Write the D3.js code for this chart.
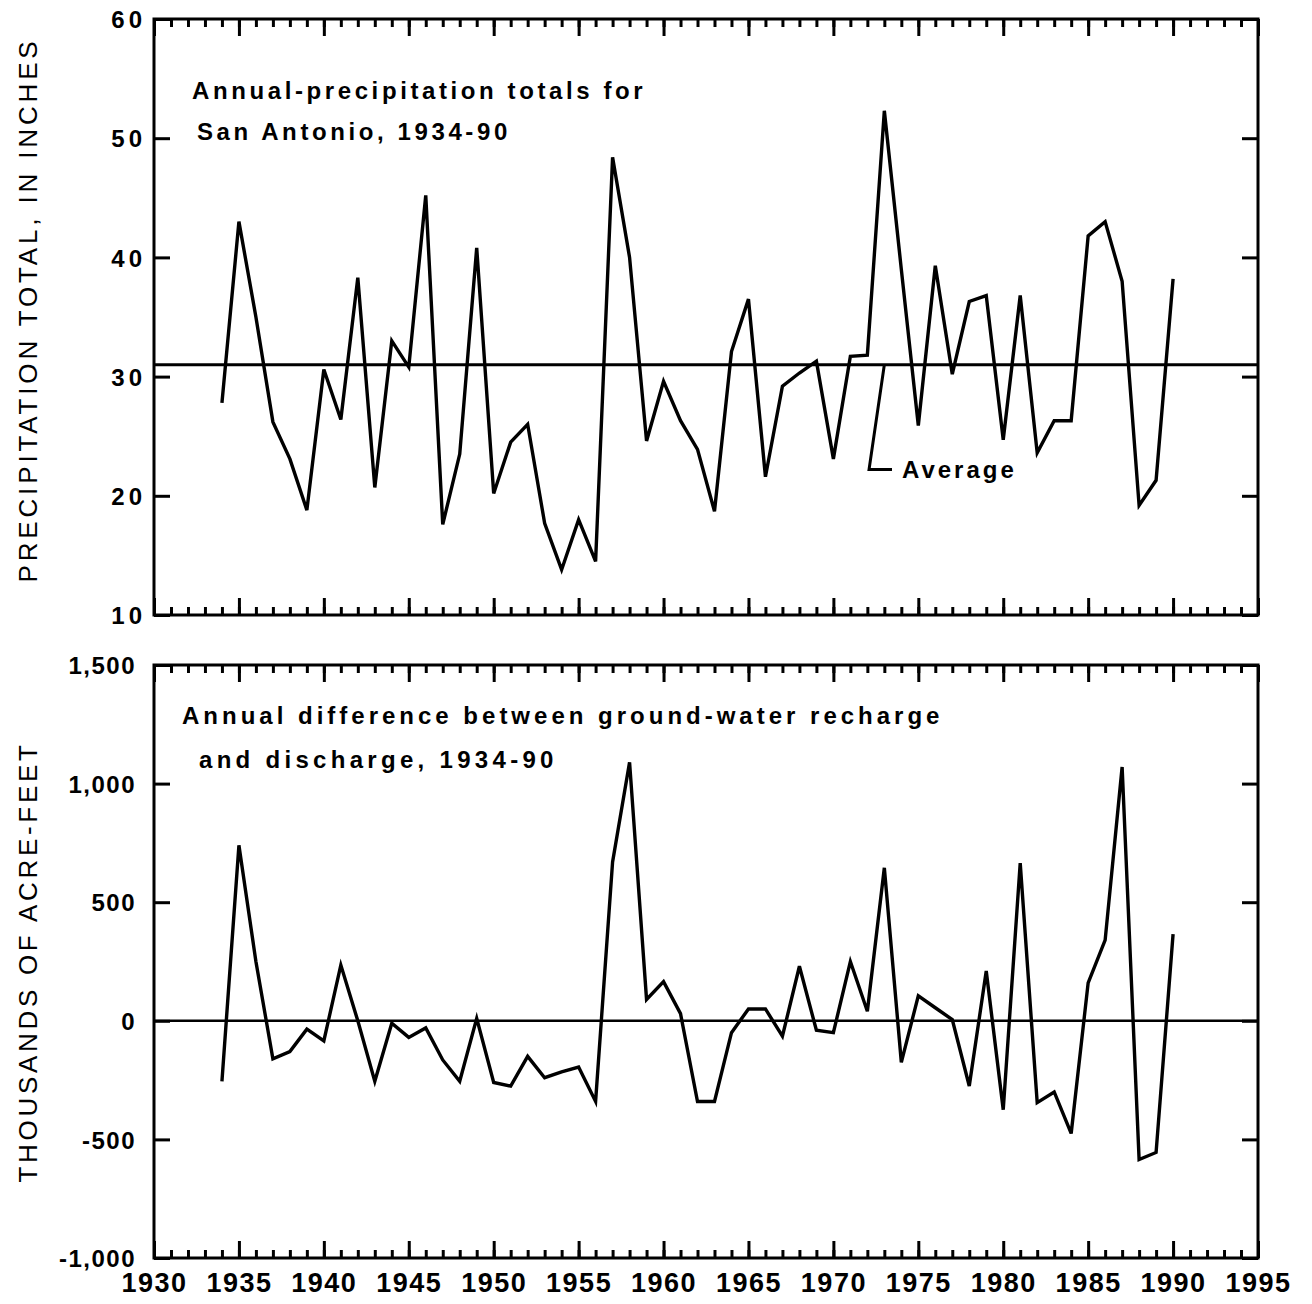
<!DOCTYPE html>
<html><head><meta charset="utf-8">
<script src="https://cdn.jsdelivr.net/npm/d3@7"></script>
<style>
html,body{margin:0;padding:0;background:#fff;}
svg{display:block;}
text{font-family:"Liberation Sans",Arial,Helvetica,sans-serif;fill:#000;}
</style></head>
<body>
<script>
// ---------- data ----------
const years = d3.range(1934, 1991);
const precip = [27.8,43.0,35.0,26.2,23.1,18.8,30.6,26.4,38.3,20.7,33.0,30.8,45.2,17.6,23.5,40.8,20.2,24.5,26.0,17.7,13.8,18.0,14.5,48.4,40.0,24.6,29.6,26.3,23.9,18.7,32.1,36.5,21.6,29.2,30.3,31.3,23.1,31.7,31.8,52.3,39.0,25.9,39.3,30.2,36.3,36.8,24.7,36.8,23.6,26.3,26.3,41.8,43.0,38.0,19.2,21.3,38.2];
const recharge = [-255,740,250,-160,-130,-35,-85,235,0,-255,-10,-70,-30,-165,-255,10,-260,-275,-150,-240,-215,-195,-340,670,1090,90,165,30,-340,-340,-50,50,50,-65,230,-40,-50,250,40,645,-175,105,55,5,-275,210,-375,665,-345,-300,-475,160,340,1070,-585,-555,365];
const precipAverage = 31.0;
const xTickMajor = d3.range(1930, 1996, 5);
const xTickMinor = d3.range(1930, 1996, 1);
const precipTicks = [10,20,30,40,50,60];
const rechargeTicks = [-1000,-500,0,500,1000,1500];
const topTitle = ["Annual-precipitation totals for", "San Antonio, 1934-90"];
const bottomTitle = ["Annual difference between ground-water recharge", "and discharge, 1934-90"];
const topYLabel = "PRECIPITATION TOTAL, IN INCHES";
const bottomYLabel = "THOUSANDS OF ACRE-FEET";
const averageLabel = "Average";
const averageLeader = [[1973.0, 31.0],[1972.1, 22.2],[1973.45, 22.2]];

// ---------- layout ----------
const W = 1312, H = 1304;
const L = 154, R = 1258;
const topPanel = {t:19, b:615};
const botPanel = {t:665, b:1258};

const svg = d3.select("body").append("svg").attr("width", W).attr("height", H);

const x = d3.scaleLinear().domain([1930, 1995]).range([L, R]);
const yTop = d3.scaleLinear().domain([10, 60]).range([topPanel.b, topPanel.t]);
const yBot = d3.scaleLinear().domain([-1000, 1500]).range([botPanel.b, botPanel.t]);

const loc = d3.formatLocale({decimal:".", thousands:",", grouping:[3], currency:["$",""], minus:"-"});
const fmtComma = loc.format(",");

function panel(y, p, ticks, fmt, labelDx, labelSpacing) {
  const g = svg.append("g");
  const axTopMinor = d3.axisTop(x).tickValues(xTickMinor).tickSize(-8).tickFormat("");
  const axTopMajor = d3.axisTop(x).tickValues(xTickMajor).tickSize(-17).tickFormat("");
  const axBotMinor = d3.axisBottom(x).tickValues(xTickMinor).tickSize(-8).tickFormat("");
  const axBotMajor = d3.axisBottom(x).tickValues(xTickMajor).tickSize(-17).tickFormat("");
  [[axTopMinor,p.t],[axTopMajor,p.t],[axBotMinor,p.b],[axBotMajor,p.b]].forEach(([ax,yy])=>{
    const a = g.append("g").attr("transform",`translate(0,${yy})`).call(ax);
    a.select(".domain").remove();
    a.selectAll("line").attr("stroke","#000").attr("stroke-width",3);
  });
  const axL = d3.axisLeft(y).tickValues(ticks).tickSize(-16).tickPadding(8 + labelDx).tickFormat(fmt);
  const aL = g.append("g").attr("transform",`translate(${L},0)`).call(axL);
  aL.select(".domain").remove();
  aL.selectAll("line").attr("stroke","#000").attr("stroke-width",3);
  aL.selectAll("text").attr("font-size",24).attr("font-weight","bold")
    .attr("letter-spacing", labelSpacing).attr("dy","0.36em");
  const axR = d3.axisRight(y).tickValues(ticks).tickSize(-16).tickFormat("");
  const aR = g.append("g").attr("transform",`translate(${R},0)`).call(axR);
  aR.select(".domain").remove();
  aR.selectAll("line").attr("stroke","#000").attr("stroke-width",3);
  g.append("rect").attr("x",L).attr("y",p.t).attr("width",R-L).attr("height",p.b-p.t)
    .attr("fill","none").attr("stroke","#000").attr("stroke-width",3);
  return g;
}

// ---------- top panel ----------
const gT = panel(yTop, topPanel, precipTicks, d3.format("d"), 0, 4);
gT.append("line").attr("x1",L).attr("x2",R).attr("y1",yTop(precipAverage)).attr("y2",yTop(precipAverage))
  .attr("stroke","#000").attr("stroke-width",3);
gT.append("path").datum(years.map((yr,i)=>[yr,precip[i]]))
  .attr("d", d3.line().x(d=>x(d[0])).y(d=>yTop(d[1])))
  .attr("fill","none").attr("stroke","#000").attr("stroke-width",3.4).attr("stroke-linejoin","miter");
gT.append("path").datum(averageLeader)
  .attr("d", d3.line().x(d=>x(d[0])).y(d=>yTop(d[1])))
  .attr("fill","none").attr("stroke","#000").attr("stroke-width",3);
gT.append("text").attr("x", x(averageLeader[2][0]) + 10).attr("y", yTop(averageLeader[2][1]))
  .attr("dy","0.36em").attr("font-size",24).attr("font-weight","bold").attr("letter-spacing",3)
  .text(averageLabel);
gT.append("text").attr("x",192).attr("y",99).attr("font-size",24).attr("font-weight","bold")
  .attr("letter-spacing",3.6).text(topTitle[0]);
gT.append("text").attr("x",197).attr("y",140).attr("font-size",24).attr("font-weight","bold")
  .attr("letter-spacing",3.6).text(topTitle[1]);
svg.append("text").attr("transform",`translate(37,310) rotate(-90)`).attr("text-anchor","middle")
  .attr("font-size",26).attr("letter-spacing",3.85).text(topYLabel);

// ---------- bottom panel ----------
const gB = panel(yBot, botPanel, rechargeTicks, fmtComma, 10, 1.5);
gB.append("line").attr("x1",L).attr("x2",R).attr("y1",yBot(0)).attr("y2",yBot(0))
  .attr("stroke","#000").attr("stroke-width",2.5);
gB.append("path").datum(years.map((yr,i)=>[yr,recharge[i]]))
  .attr("d", d3.line().x(d=>x(d[0])).y(d=>yBot(d[1])))
  .attr("fill","none").attr("stroke","#000").attr("stroke-width",3.4).attr("stroke-linejoin","miter");
gB.append("text").attr("x",182).attr("y",724).attr("font-size",24).attr("font-weight","bold")
  .attr("letter-spacing",4.0).text(bottomTitle[0]);
gB.append("text").attr("x",199).attr("y",768).attr("font-size",24).attr("font-weight","bold")
  .attr("letter-spacing",4.3).text(bottomTitle[1]);
svg.append("text").attr("transform",`translate(37,962) rotate(-90)`).attr("text-anchor","middle")
  .attr("font-size",26).attr("letter-spacing",3.7).text(bottomYLabel);

// x labels
const axX = d3.axisBottom(x).tickValues(xTickMajor).tickSize(0).tickPadding(26).tickFormat(d3.format("d"));
const ax = svg.append("g").attr("transform",`translate(0,${botPanel.b})`).call(axX);
ax.select(".domain").remove();
ax.selectAll("text").attr("font-size",27).attr("font-weight","bold").attr("letter-spacing",1.5).attr("dy","0.3em");
</script>
</body></html>
